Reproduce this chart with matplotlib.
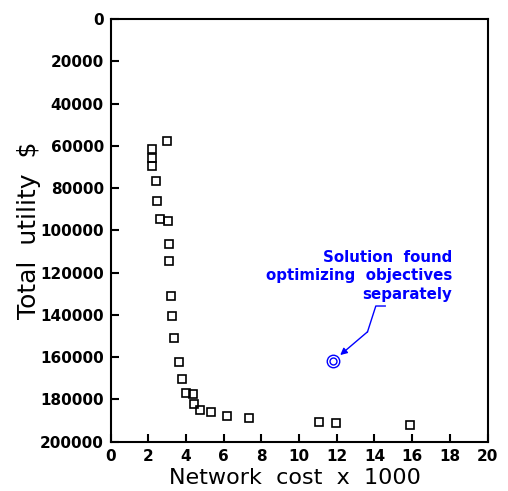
import matplotlib
matplotlib.use("Agg")
import matplotlib.pyplot as plt

# Data (network cost x 1000, total utility $)
cost = [2.97, 2.18, 2.18, 2.18, 2.41, 2.48, 2.62, 3.06, 3.11, 3.11, 3.19, 3.27,
        3.36, 3.63, 3.79, 4.00, 4.39, 4.44, 4.72, 5.33, 6.18, 7.33, 11.03, 11.98, 15.91]
utility = [57700, 61700, 65600, 69600, 76700, 86000, 94600, 95400, 106500, 114400,
           131100, 140500, 150800, 162400, 170300, 177000, 177600, 182000, 185000,
           185800, 187800, 188600, 190800, 191300, 192100]

sep_cost = [11.82]
sep_utility = [161800]

note_text = "Solution  found\noptimizing  objectives\nseparately"
note_x, note_y = 18.11, 121500
leader_x = [14.57, 14.07, 13.63]
leader_y = [135800, 135800, 148000]
arrow_tip = (12.18, 159000)

xticks = list(range(0, 21, 2))
yticks = list(range(0, 200001, 20000))

fig = plt.figure(figsize=(5.08, 4.91), dpi=100)
ax = fig.add_axes([0.218, 0.1004, 0.7417, 0.8609])

ax.plot(cost, utility, linestyle='none', marker='s', markersize=6,
        markerfacecolor='none', markeredgecolor='black', markeredgewidth=1.2)
ax.plot(sep_cost, sep_utility, linestyle='none', marker='o', markersize=9,
        markerfacecolor='none', markeredgecolor='blue', markeredgewidth=1.0)
ax.plot(sep_cost, sep_utility, linestyle='none', marker='o', markersize=5,
        markerfacecolor='none', markeredgecolor='blue', markeredgewidth=1.0)

ax.plot(leader_x, leader_y, color='blue', lw=1.0)
ax.annotate('', xy=arrow_tip, xytext=(leader_x[-1], leader_y[-1]),
            arrowprops=dict(arrowstyle='-|>', color='blue', lw=1.0,
                            mutation_scale=10, shrinkA=0, shrinkB=0))
ax.text(note_x, note_y, note_text, color='blue', ha='right', va='center',
        multialignment='right', fontsize=10.8, fontweight='bold',
        family='DejaVu Sans', linespacing=1.3)

ax.set_xlim(0, 20)
ax.set_ylim(200000, 0)
ax.set_xticks(xticks)
ax.set_yticks(yticks)
ax.set_xticklabels([str(t) for t in xticks])
ax.set_yticklabels([str(t) for t in yticks])
ax.tick_params(direction='in', length=5.5, width=1.5, labelsize=11, pad=5,
               top=False, right=False)
for lab in ax.get_xticklabels() + ax.get_yticklabels():
    lab.set_fontweight('bold')
for sp in ax.spines.values():
    sp.set_linewidth(1.5)

ax.set_xlabel("Network  cost  x  1000", fontsize=16)
ax.set_ylabel("Total  utility  $", fontsize=18)
ax.xaxis.set_label_coords(0.49, -0.062)
ax.yaxis.set_label_coords(-0.185, 0.5)

fig.savefig("out.png", dpi=100)
